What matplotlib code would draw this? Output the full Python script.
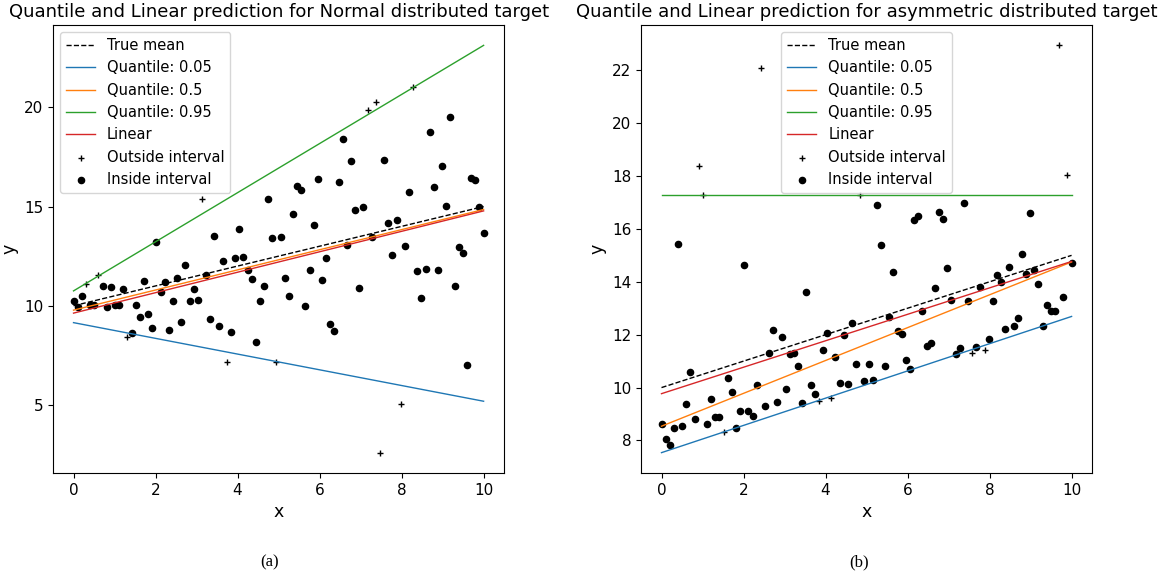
import numpy as np
import matplotlib
matplotlib.use("Agg")
import matplotlib.pyplot as plt

# x positions of the samples (evenly spaced on [0, 10])
x = np.linspace(0, 10, 100)

# normal distributed target
y_normal = [
    10.22, 9.95, 10.47, 11.12, 10.05, 10.05, 11.54, 10.99, 9.95, 10.95,
    10.02, 10.02, 10.84, 8.41, 8.61, 10.02, 9.45, 11.26, 9.58, 8.88,
    13.20, 10.69, 11.21, 8.76, 10.25, 11.42, 9.20, 12.05, 10.25, 10.87,
    10.28, 15.39, 11.56, 9.35, 13.52, 8.96, 12.26, 7.19, 8.66, 12.43,
    13.85, 12.46, 11.79, 11.34, 8.16, 10.25, 10.99, 15.39, 13.40, 7.19,
    13.48, 11.38, 10.49, 14.61, 16.03, 15.81, 10.00, 11.81, 14.05, 16.37,
    11.31, 12.40, 9.08, 8.74, 16.25, 18.41, 13.05, 17.29, 14.84, 10.89,
    14.97, 19.88, 13.48, 20.25, 2.60, 17.32, 14.19, 12.56, 14.32, 5.03,
    13.03, 15.71, 21.00, 11.74, 10.39, 11.86, 18.76, 15.98, 11.79, 17.04,
    15.03, 19.51, 11.00, 12.98, 12.68, 7.02, 16.45, 16.32, 14.97, 13.68,
]
outside_normal = [3, 6, 13, 31, 37, 49, 71, 73, 74, 79, 82]

# asymmetric (pareto) distributed target
y_pareto = [
    8.63, 8.05, 7.84, 8.49, 15.42, 8.54, 9.37, 10.58, 8.83, 18.37,
    17.30, 8.63, 9.56, 8.88, 8.88, 8.31, 10.37, 9.84, 8.49, 9.12,
    14.63, 9.11, 8.91, 10.09, 22.07, 9.32, 11.29, 12.18, 9.46, 11.92,
    9.95, 11.27, 11.32, 10.80, 9.40, 13.60, 10.11, 9.77, 9.48, 11.41,
    12.05, 9.60, 11.14, 10.18, 12.00, 10.14, 12.45, 10.88, 17.30, 10.25,
    10.88, 10.30, 16.89, 15.38, 10.83, 12.68, 14.37, 12.14, 12.04, 11.03,
    10.72, 16.34, 16.49, 12.89, 11.58, 11.67, 13.77, 16.64, 16.39, 14.52,
    13.31, 11.26, 11.48, 16.98, 13.28, 11.29, 11.55, 13.81, 11.43, 11.84,
    13.26, 14.24, 13.99, 12.20, 14.57, 12.34, 12.65, 15.05, 14.28, 16.59,
    14.44, 13.91, 12.34, 13.14, 12.88, 12.88, 22.94, 13.43, 18.05, 14.71,
]
outside_pareto = [9, 10, 15, 24, 38, 41, 48, 75, 78, 96, 98]

# fitted lines, value at x=0 and x=10
x_ends = [0, 10]
true_mean = [10.0, 15.0]
normal_q05 = [9.15, 5.19]
normal_q50 = [9.78, 14.85]
normal_q95 = [10.75, 23.12]
normal_linear = [9.63, 14.78]
pareto_q05 = [7.54, 12.69]
pareto_q50 = [8.54, 14.75]
pareto_q95 = [17.30, 17.30]
pareto_linear = [9.77, 14.77]

quantiles = [0.05, 0.5, 0.95]


def draw_panel(ax, y, outside, q_lines, linear, title, legend_loc):
    y = np.asarray(y)
    mask = np.zeros(len(x), dtype=bool)
    mask[outside] = True
    ax.plot(x_ends, true_mean, "k--", lw=1, label="True mean")
    for q, line, c in zip(quantiles, q_lines, ["C0", "C1", "C2"]):
        ax.plot(x_ends, line, color=c, lw=1, label=f"Quantile: {q}")
    ax.plot(x_ends, linear, color="tab:red", lw=1, label="Linear")
    ax.scatter(x[mask], y[mask], color="black", marker="+", s=14, lw=1,
               label="Outside interval")
    ax.scatter(x[~mask], y[~mask], color="black", s=20, label="Inside interval")
    ax.set_xlabel("x", fontsize=12.5)
    ax.set_ylabel("y", fontsize=12.5)
    ax.set_title(title, fontsize=13)
    ax.tick_params(labelsize=11)
    ax.set_xticks([0, 2, 4, 6, 8, 10])
    ax.legend(loc=legend_loc, fontsize=10.5)


fig = plt.figure(figsize=(11.68, 5.76), dpi=100)
ax1 = fig.add_axes([0.0454, 0.1788, 0.3862, 0.7778])
ax2 = fig.add_axes([0.5488, 0.1788, 0.3862, 0.7778])

draw_panel(ax1, y_normal, outside_normal,
           [normal_q05, normal_q50, normal_q95], normal_linear,
           "Quantile and Linear prediction for Normal distributed target",
           "upper left")
draw_panel(ax2, y_pareto, outside_pareto,
           [pareto_q05, pareto_q50, pareto_q95], pareto_linear,
           "Quantile and Linear prediction for asymmetric distributed target",
           "upper center")
ax2.set_yticks([8, 10, 12, 14, 16, 18, 20, 22])

fig.text(0.2312, 0.024, "(a)", ha="center", va="center",
         family="Liberation Serif", fontsize=12)
fig.text(0.7359, 0.024, "(b)", ha="center", va="center",
         family="Liberation Serif", fontsize=12)

fig.savefig("out.png", dpi=100)
